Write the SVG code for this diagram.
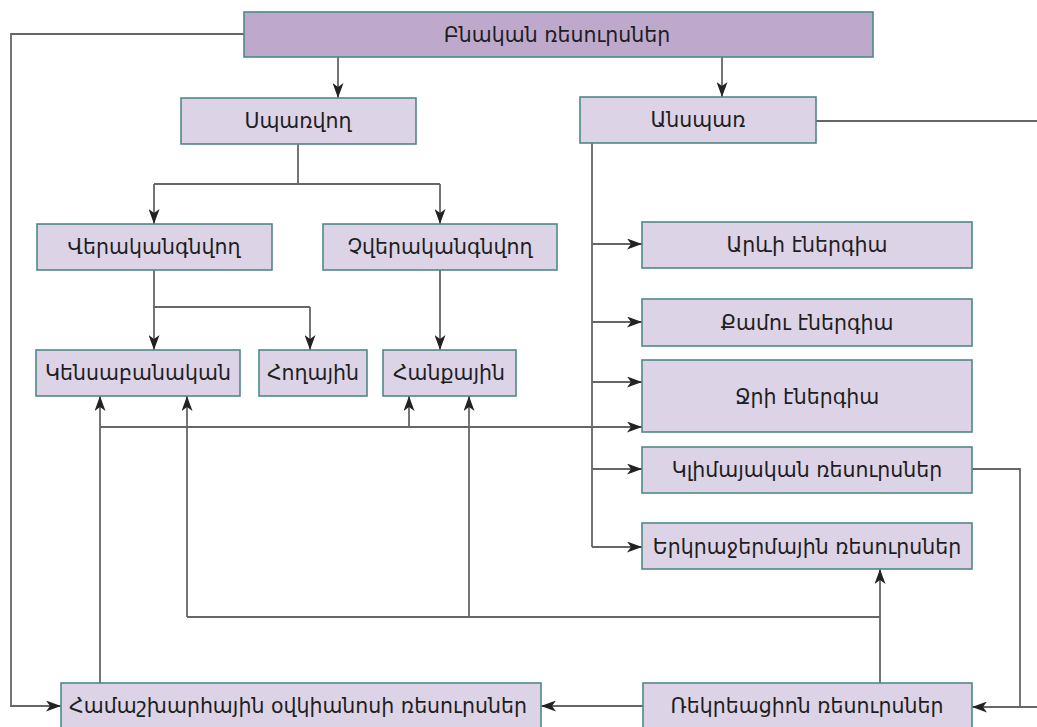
<svg xmlns="http://www.w3.org/2000/svg" width="1037" height="727" viewBox="0 0 1037 727">
<defs>
<marker id="ah" viewBox="0 0 15 11" refX="15" refY="5.5" markerWidth="15" markerHeight="11" markerUnits="userSpaceOnUse" orient="auto">
<path d="M0,0 L15,5.5 L0,11 L4,5.5 z" fill="#222"/>
</marker>
<style>
.box{fill:#ddd3e6;stroke:#4e8a86;stroke-width:1.6}
.top{fill:#bea9cd;stroke:#4e8a86;stroke-width:1.6}
.t{font-family:"DejaVu Sans",sans-serif;font-size:20.5px;fill:#1e1e1e;text-anchor:middle;dominant-baseline:central}
.c{fill:none;stroke:#666;stroke-width:1.8}
.a{marker-end:url(#ah)}
</style>
</defs>
<rect width="1037" height="727" fill="#fff"/>
<g id="connectors">
<path class="c a" d="M244,34 H11 V706 H61"/>
<path class="c a" d="M338,57 V98"/>
<path class="c a" d="M722,57 V97"/>
<path class="c" d="M816,121 H1037"/>
<path class="c" d="M298,144 V184 M154,184 H440"/>
<path class="c a" d="M154,184 V224"/>
<path class="c a" d="M440,184 V224"/>
<path class="c" d="M154,270 V307 H310"/>
<path class="c a" d="M154,307 V350"/>
<path class="c a" d="M310,307 V350"/>
<path class="c a" d="M440,270 V350"/>
<path class="c" d="M592,143 V547"/>
<path class="c a" d="M592,244 H642"/>
<path class="c a" d="M592,322 H642"/>
<path class="c a" d="M592,382 H642"/>
<path class="c a" d="M592,469 H642"/>
<path class="c a" d="M592,547 H642"/>
<path class="c a" d="M100,683 V396"/>
<path class="c a" d="M100,427 H642"/>
<path class="c a" d="M409,427 V396"/>
<path class="c a" d="M187,617 V396"/>
<path class="c a" d="M469,617 V396"/>
<path class="c" d="M187,617 H880"/>
<path class="c a" d="M880,683 V569"/>
<path class="c" d="M972,469 H1020 V707"/>
<path class="c a" d="M1037,707 H972"/>
<path class="c a" d="M643,706 H541"/>
</g>
<g id="n-bnakan"><rect class="top" x="244" y="12" width="629" height="45"/><text class="t" x="557" y="35">Բնական ռեսուրսներ</text></g>
<g id="n-spar"><rect class="box" x="181" y="98" width="235" height="46"/><text class="t" x="298" y="121">Սպառվող</text></g>
<g id="n-ansp"><rect class="box" x="580" y="97" width="236" height="46"/><text class="t" x="698" y="120">Անսպառ</text></g>
<g id="n-ver"><rect class="box" x="37" y="224" width="235" height="46"/><text class="t" x="154" y="247">Վերականգնվող</text></g>
<g id="n-chver"><rect class="box" x="323" y="224" width="234" height="46"/><text class="t" x="440" y="247">Չվերականգնվող</text></g>
<g id="n-kens"><rect class="box" x="36" y="350" width="204" height="46"/><text class="t" x="138" y="373">Կենսաբանական</text></g>
<g id="n-hogh"><rect class="box" x="259" y="350" width="108" height="46"/><text class="t" x="313" y="373">Հողային</text></g>
<g id="n-hanq"><rect class="box" x="383" y="350" width="133" height="46"/><text class="t" x="449" y="373">Հանքային</text></g>
<g id="n-arev"><rect class="box" x="642" y="222" width="330" height="46"/><text class="t" x="807" y="245">Արևի էներգիա</text></g>
<g id="n-qamu"><rect class="box" x="642" y="299" width="330" height="47"/><text class="t" x="807" y="323">Քամու էներգիա</text></g>
<g id="n-jri"><rect class="box" x="642" y="360" width="330" height="72"/><text class="t" x="807" y="397">Ջրի էներգիա</text></g>
<g id="n-klim"><rect class="box" x="642" y="447" width="330" height="46"/><text class="t" x="807" y="470">Կլիմայական ռեսուրսներ</text></g>
<g id="n-erkr"><rect class="box" x="642" y="523" width="330" height="46"/><text class="t" x="807" y="547">Երկրաջերմային ռեսուրսներ</text></g>
<g id="n-hamash"><rect class="box" x="61" y="683" width="480" height="47"/><text class="t" x="298" y="706">Համաշխարհային օվկիանոսի ռեսուրսներ</text></g>
<g id="n-rekr"><rect class="box" x="643" y="683" width="329" height="47"/><text class="t" x="807" y="706">Ռեկրեացիոն ռեսուրսներ</text></g>
</svg>
